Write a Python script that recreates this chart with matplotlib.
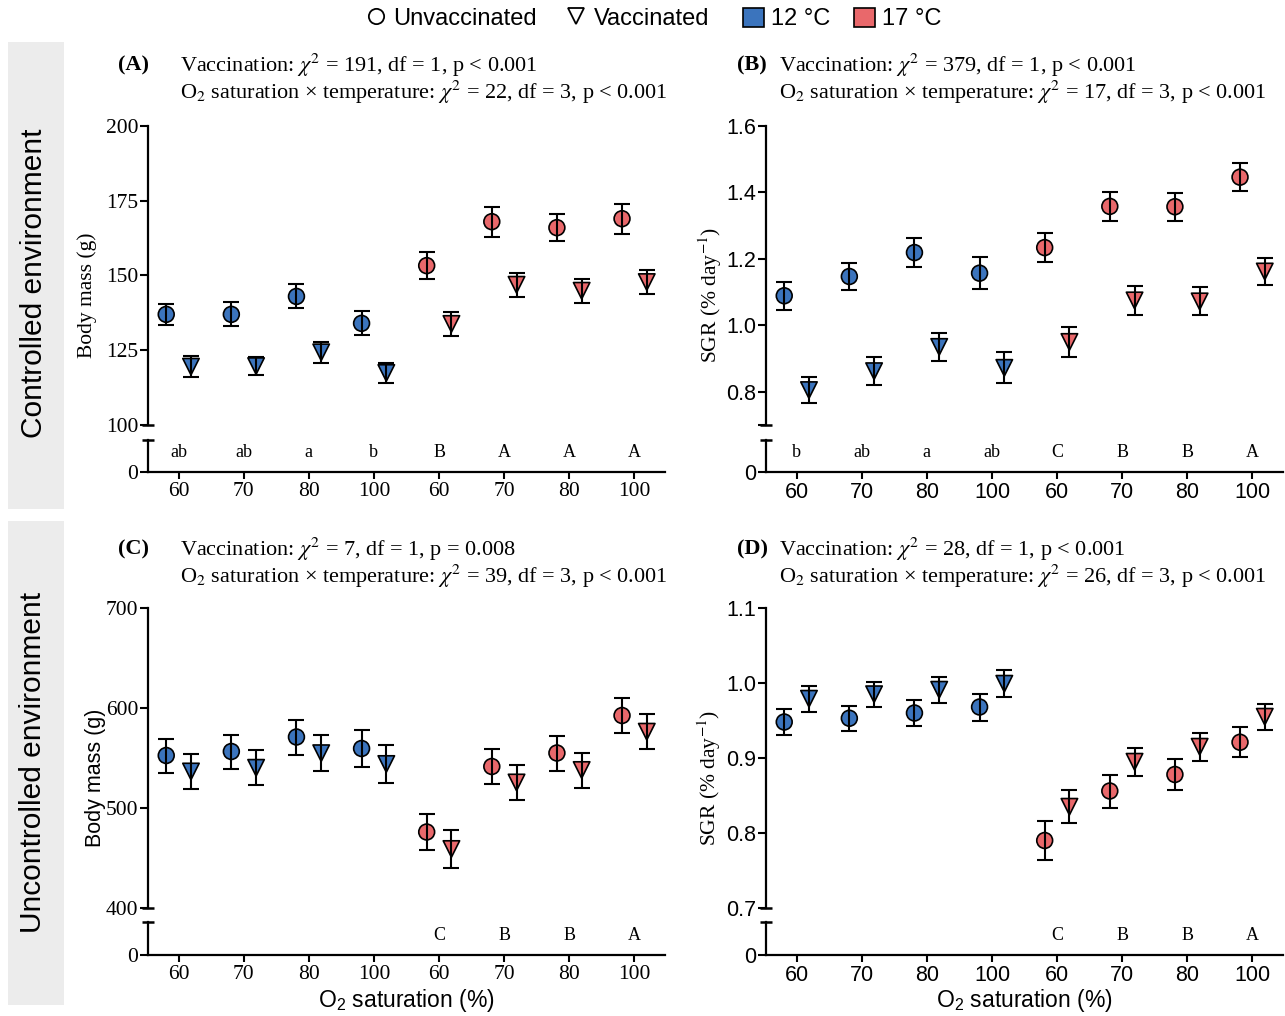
import numpy as np
import matplotlib
matplotlib.use('Agg')
import matplotlib.pyplot as plt
from matplotlib.lines import Line2D
from matplotlib.patches import Patch, Rectangle

SERIF = 'Liberation Serif'
SANS = 'Liberation Sans'
plt.rcParams['font.family'] = SANS
plt.rcParams['mathtext.fontset'] = 'custom'
plt.rcParams['mathtext.rm'] = SANS
plt.rcParams['mathtext.it'] = SANS + ':italic'

BLUE = '#3b74bd'
RED = '#e9686b'

W, H = 1285, 1016

# x groups: 4 O2 levels at 12 C then 4 at 17 C
o2_labels = ['60', '70', '80', '100', '60', '70', '80', '100']
group_colors = [BLUE] * 4 + [RED] * 4

# (A) body mass, controlled environment
mass_ctrl_unvac = [137, 137, 143, 134, 153.3, 168, 166, 169]
mass_ctrl_unvac_err = [3.5, 4, 4, 4, 4.5, 5, 4.5, 5]
mass_ctrl_vac = [119.5, 119.7, 124.3, 117.4, 133.8, 146.9, 144.9, 147.8]
mass_ctrl_vac_err = [3.5, 3, 3.5, 3.5, 4, 4, 4, 4]
letters_a = ['ab', 'ab', 'a', 'b', 'B', 'A', 'A', 'A']

# (B) SGR, controlled environment
sgr_ctrl_unvac = [1.089, 1.147, 1.219, 1.157, 1.234, 1.358, 1.357, 1.446]
sgr_ctrl_unvac_err = [0.042, 0.042, 0.043, 0.048, 0.043, 0.043, 0.042, 0.043]
sgr_ctrl_vac = [0.805, 0.862, 0.935, 0.872, 0.950, 1.075, 1.072, 1.162]
sgr_ctrl_vac_err = [0.040, 0.042, 0.043, 0.047, 0.044, 0.043, 0.042, 0.042]
letters_b = ['b', 'ab', 'a', 'ab', 'C', 'B', 'B', 'A']

# (C) body mass, uncontrolled environment
mass_unc_unvac = [552.5, 556.5, 571, 559.5, 476, 541.5, 555, 592.5]
mass_unc_unvac_err = [17, 17, 17.5, 18.5, 18.3, 17.5, 17.5, 17.5]
mass_unc_vac = [536.5, 540.2, 554.8, 544, 459, 525.5, 538, 576.3]
mass_unc_vac_err = [17.5, 17.5, 17.8, 19, 19, 17.5, 17.5, 17.7]
letters_c = ['', '', '', '', 'C', 'B', 'B', 'A']

# (D) SGR, uncontrolled environment
sgr_unc_unvac = [0.948, 0.953, 0.960, 0.968, 0.790, 0.856, 0.878, 0.921]
sgr_unc_unvac_err = [0.017, 0.017, 0.017, 0.018, 0.026, 0.022, 0.021, 0.020]
sgr_unc_vac = [0.979, 0.985, 0.991, 0.999, 0.835, 0.895, 0.915, 0.955]
sgr_unc_vac_err = [0.017, 0.017, 0.017, 0.018, 0.022, 0.019, 0.019, 0.017]
letters_d = ['', '', '', '', 'C', 'B', 'B', 'A']

TICK_FS = 15.5


def rect(x0, y0, x1, y1):
    return [x0 / W, 1 - y1 / H, (x1 - x0) / W, (y1 - y0) / H]


def cap(ax, y):
    # little horizontal end mark where the axis is broken
    ax.plot([0], [y], marker='_', ms=9, mew=1.8, color='k',
            transform=ax.transAxes, clip_on=False, zorder=5)


def draw_panel(fig, box, unvac, unvac_err, vac, vac_err, ylim, yticks, ytlabels,
               tick_font, letters, ylabel, ylabel_font, ylabel_x, xlabel=None):
    x0, x1, ytop, ybot, lowtop, lowbot = box
    ax = fig.add_axes(rect(x0, ytop, x1, ybot))
    low = fig.add_axes(rect(x0, lowtop, x1, lowbot))
    x = np.arange(8)
    for a in (ax, low):
        a.set_xlim(-0.47, 7.47)
        a.spines['top'].set_visible(False)
        a.spines['right'].set_visible(False)
        a.spines['left'].set_linewidth(1.6)
        a.spines['bottom'].set_linewidth(1.6)
        a.tick_params(axis='y', direction='out', length=6, width=1.5, pad=1)
        a.patch.set_alpha(0)

    ax.scatter(x - 0.19, unvac, marker='o', s=130, c=group_colors,
               edgecolors='k', linewidths=1.2, zorder=3)
    ax.scatter(x + 0.19, vac, marker='v', s=140, c=group_colors,
               edgecolors='k', linewidths=1.2, zorder=3)
    ax.errorbar(x - 0.19, unvac, yerr=unvac_err, fmt='none', ecolor='k',
                elinewidth=1.5, capsize=6, capthick=1.5, zorder=4)
    ax.errorbar(x + 0.19, vac, yerr=vac_err, fmt='none', ecolor='k',
                elinewidth=1.5, capsize=6, capthick=1.5, zorder=4)

    ax.spines['bottom'].set_visible(False)
    ax.set_xticks([])
    ax.set_ylim(*ylim)
    ax.set_yticks(yticks)
    ax.set_yticklabels(ytlabels, family=tick_font, fontsize=TICK_FS)
    cap(ax, 0)

    low.set_ylim(0, 1)
    low.set_yticks([0])
    low.set_yticklabels(['0'], family=tick_font, fontsize=TICK_FS)
    low.set_xticks(x)
    low.set_xticklabels(o2_labels, family=tick_font, fontsize=TICK_FS)
    low.tick_params(axis='x', direction='out', length=5, width=1.5, pad=2)
    cap(low, 1)
    for i, s in enumerate(letters):
        low.text(i, 0.6, s, ha='center', va='center', family=SERIF, fontsize=13)

    yc = (ytop + lowbot) / 2 - 4
    math_ff = 'stix' if ylabel_font == SERIF else 'custom'
    fig.text(ylabel_x / W, 1 - yc / H, ylabel, rotation=90, ha='center', va='center',
             family=ylabel_font, fontsize=15.5, math_fontfamily=math_ff)
    if xlabel:
        fig.text((x0 + x1) / 2 / W, 1 - 1001 / H, xlabel, ha='center', va='center',
                 family=SANS, fontsize=16.5, math_fontfamily='custom')
    return ax, low


def title(fig, tag, xtag, xtxt, y, line1, line2):
    fig.text(xtag / W, 1 - y / H, tag, ha='left', va='center', family=SERIF,
             fontweight='bold', fontsize=16)
    fig.text(xtxt / W, 1 - y / H, line1, ha='left', va='center', family=SERIF,
             fontsize=16, math_fontfamily='stix')
    fig.text(xtxt / W, 1 - (y + 27) / H, line2, ha='left', va='center', family=SERIF,
             fontsize=16, math_fontfamily='stix')


fig = plt.figure(figsize=(W / 100, H / 100), dpi=100)

# grey side strips
for yy0, yy1 in [(42, 509), (521, 1005)]:
    fig.add_artist(Rectangle((8 / W, 1 - yy1 / H), 56 / W, (yy1 - yy0) / H,
                             transform=fig.transFigure, fc='#ececec', ec='none', zorder=0))
fig.text(34 / W, 1 - 283 / H, 'Controlled environment', rotation=90, ha='center',
         va='center', family=SANS, fontsize=21.5)
fig.text(33 / W, 1 - 762 / H, 'Uncontrolled environment', rotation=90, ha='center',
         va='center', family=SANS, fontsize=21.5)

sgr_label = r'SGR (% day$^{-1}$)'
o2_label = r'O$_2$ saturation (%)'

draw_panel(fig, (148, 665, 126, 425, 440, 472), mass_ctrl_unvac, mass_ctrl_unvac_err,
           mass_ctrl_vac, mass_ctrl_vac_err, (100, 200), [100, 125, 150, 175, 200],
           ['100', '125', '150', '175', '200'], SERIF, letters_a,
           'Body mass (g)', SERIF, 87)
draw_panel(fig, (766, 1283, 126, 425, 440, 472), sgr_ctrl_unvac, sgr_ctrl_unvac_err,
           sgr_ctrl_vac, sgr_ctrl_vac_err, (0.7, 1.6), [0.7, 0.8, 1.0, 1.2, 1.4, 1.6],
           ['', '0.8', '1.0', '1.2', '1.4', '1.6'], SANS, letters_b,
           sgr_label, SERIF, 710)
draw_panel(fig, (148, 665, 608, 908, 922, 955), mass_unc_unvac, mass_unc_unvac_err,
           mass_unc_vac, mass_unc_vac_err, (400, 700), [400, 500, 600, 700],
           ['400', '500', '600', '700'], SERIF, letters_c,
           'Body mass (g)', SANS, 95, xlabel=o2_label)
draw_panel(fig, (766, 1283, 608, 908, 922, 955), sgr_unc_unvac, sgr_unc_unvac_err,
           sgr_unc_vac, sgr_unc_vac_err, (0.7, 1.1), [0.7, 0.8, 0.9, 1.0, 1.1],
           ['0.7', '0.8', '0.9', '1.0', '1.1'], SANS, letters_d,
           sgr_label, SERIF, 709, xlabel=o2_label)

title(fig, '(A)', 118, 180, 65, r'Vaccination: $\chi^2$ = 191, df = 1, p < 0.001',
      r'O$_2$ saturation × temperature: $\chi^2$ = 22, df = 3, p < 0.001')
title(fig, '(B)', 737, 779, 65, r'Vaccination: $\chi^2$ = 379, df = 1, p < 0.001',
      r'O$_2$ saturation × temperature: $\chi^2$ = 17, df = 3, p < 0.001')
title(fig, '(C)', 118, 180, 549, r'Vaccination: $\chi^2$ = 7, df = 1, p = 0.008',
      r'O$_2$ saturation × temperature: $\chi^2$ = 39, df = 3, p < 0.001')
title(fig, '(D)', 737, 779, 549, r'Vaccination: $\chi^2$ = 28, df = 1, p < 0.001',
      r'O$_2$ saturation × temperature: $\chi^2$ = 26, df = 3, p < 0.001')

# legend: shapes (vaccination) and colours (temperature)
shape_handles = [
    Line2D([], [], marker='o', ls='none', mfc='white', mec='k', mew=1.3, ms=11),
    Line2D([], [], marker='v', ls='none', mfc='white', mec='k', mew=1.3, ms=11),
]
shape_labels = ['Unvaccinated', 'Vaccinated']
temp_handles = [Patch(fc=BLUE, ec='k', lw=1.2), Patch(fc=RED, ec='k', lw=1.2)]
temp_labels = ['12 °C', '17 °C']
leg_kw = dict(loc='center', ncol=2, frameon=False, prop={'family': SANS, 'size': 17},
              handletextpad=0.3, handlelength=0.9, handleheight=0.9, borderpad=0)
leg1 = fig.legend(shape_handles, shape_labels, bbox_to_anchor=(537 / W, 1 - 19 / H),
                  columnspacing=1.2, **leg_kw)
fig.legend(temp_handles, temp_labels, bbox_to_anchor=(842 / W, 1 - 19 / H),
           columnspacing=1.0, **leg_kw)

fig.savefig('out.png', dpi=100)
